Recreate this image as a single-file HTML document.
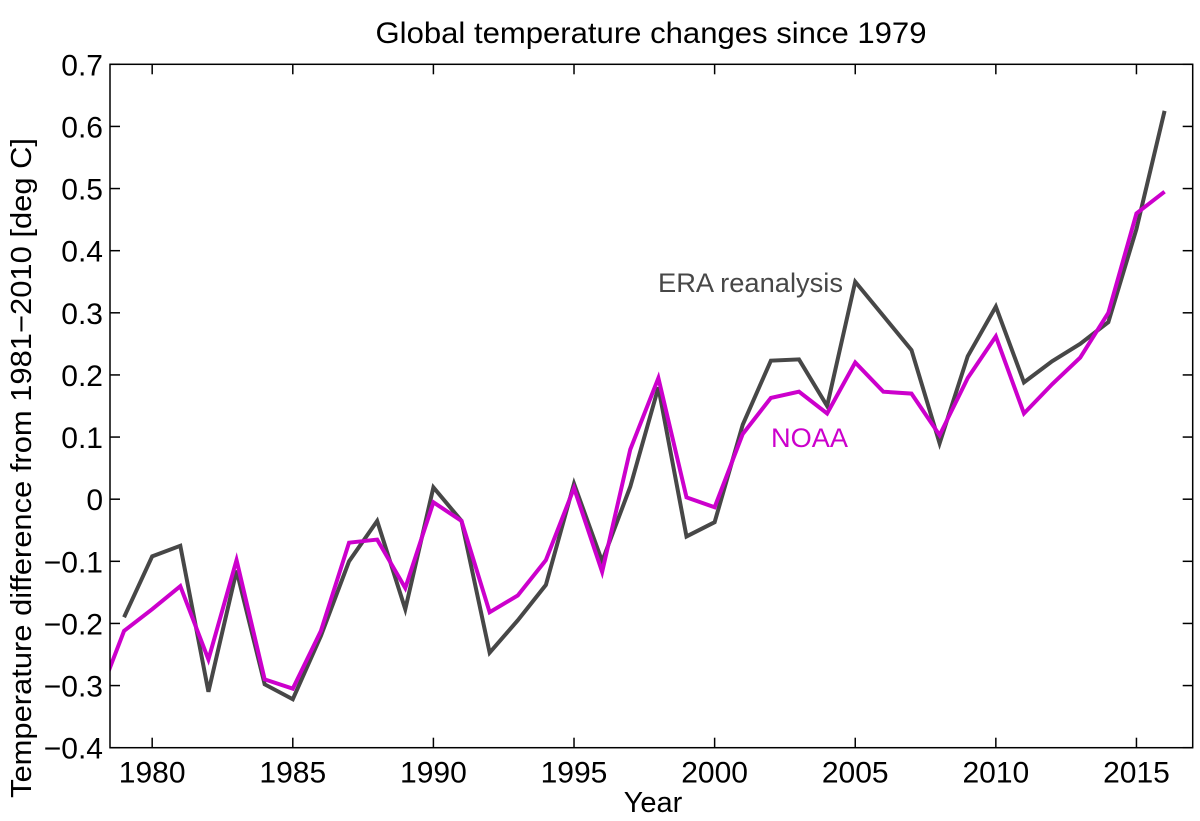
<!DOCTYPE html>
<html><head><meta charset="utf-8"><style>
body{margin:0;background:#fff;}
svg{display:block;font-family:"Liberation Sans",Arial,sans-serif;}
</style></head><body>
<svg id="chart" width="1200" height="821">
<text x="651" y="43" font-size="30" text-anchor="middle" textLength="551" lengthAdjust="spacingAndGlyphs">Global temperature changes since 1979</text>
<g id="plot"></g>
<text x="653" y="812" font-size="29" text-anchor="middle">Year</text>
<text transform="translate(31,468) rotate(-90)" font-size="29" text-anchor="middle" textLength="660" lengthAdjust="spacingAndGlyphs">Temperature difference from 1981−2010 [deg C]</text>
<text x="658" y="292" font-size="27" fill="#474747" textLength="185" lengthAdjust="spacingAndGlyphs">ERA reanalysis</text>
<text x="771" y="447" font-size="27" fill="#cc00cc" textLength="77" lengthAdjust="spacingAndGlyphs">NOAA</text>
</svg>
<script>
const eraYears=[1979,1980,1981,1982,1983,1984,1985,1986,1987,1988,1989,1990,1991,1992,1993,1994,1995,1996,1997,1998,1999,2000,2001,2002,2003,2004,2005,2006,2007,2008,2009,2010,2011,2012,2013,2014,2015,2016];
const eraValues=[-0.19,-0.092,-0.075,-0.31,-0.115,-0.298,-0.322,-0.22,-0.10,-0.035,-0.177,0.019,-0.035,-0.247,-0.195,-0.138,0.025,-0.10,0.02,0.18,-0.06,-0.037,0.12,0.223,0.225,0.15,0.35,0.295,0.24,0.09,0.23,0.31,0.188,0.222,0.25,0.285,0.435,0.625];
const noaaYears=[1978,1979,1980,1981,1982,1983,1984,1985,1986,1987,1988,1989,1990,1991,1992,1993,1994,1995,1996,1997,1998,1999,2000,2001,2002,2003,2004,2005,2006,2007,2008,2009,2010,2011,2012,2013,2014,2015,2016];
const noaaValues=[-0.33,-0.212,-0.177,-0.14,-0.258,-0.098,-0.29,-0.305,-0.212,-0.07,-0.065,-0.143,-0.005,-0.035,-0.182,-0.155,-0.098,0.018,-0.117,0.08,0.195,0.003,-0.013,0.105,0.163,0.173,0.138,0.22,0.173,0.17,0.103,0.195,0.262,0.138,0.185,0.228,0.3,0.46,0.495];
const xTicks=[1980,1985,1990,1995,2000,2005,2010,2015];
const yTicks=[-0.4,-0.3,-0.2,-0.1,0,0.1,0.2,0.3,0.4,0.5,0.6,0.7];
const yTickLabels=["−0.4","−0.3","−0.2","−0.1","0","0.1","0.2","0.3","0.4","0.5","0.6","0.7"];

const L=110,R=1192.7,T=64.3,B=747.7,X0=1978.5,X1=2017,Y0=-0.4,Y1=0.7;
const sx=v=>L+(v-X0)/(X1-X0)*(R-L);
const sy=v=>B-(v-Y0)/(Y1-Y0)*(B-T);
const NS="http://www.w3.org/2000/svg";
const g=document.getElementById('plot');
function mk(t,a){const e=document.createElementNS(NS,t);for(const k in a)e.setAttribute(k,a[k]);g.appendChild(e);return e;}
const defs=mk('defs',{});
const cp=document.createElementNS(NS,'clipPath');cp.setAttribute('id','clip');
const cr=document.createElementNS(NS,'rect');cr.setAttribute('x',L);cr.setAttribute('y',T);cr.setAttribute('width',R-L);cr.setAttribute('height',B-T);
cp.appendChild(cr);defs.appendChild(cp);

xTicks.forEach(v=>{
  const x=sx(v);
  const t1=mk('line',{x1:x,x2:x,y1:B,y2:B-10,stroke:'#000','stroke-width':1.5});
  
  
  const t2=mk('line',{x1:x,x2:x,y1:T,y2:T+10,stroke:'#000','stroke-width':1.5});
  
  
  const tx=mk('text',{x:x,y:B+35,'font-size':30,'text-anchor':'middle'});
  tx.textContent=v;
  
  
});
yTicks.forEach((v,i)=>{
  const y=sy(v);
  const t1=mk('line',{x1:L,x2:L+10,y1:y,y2:y,stroke:'#000','stroke-width':1.5});
  
  
  const t2=mk('line',{x1:R,x2:R-10,y1:y,y2:y,stroke:'#000','stroke-width':1.5});
  
  
  const tx=mk('text',{x:L-7,y:y+11,'font-size':30,'text-anchor':'end'});
  tx.textContent=yTickLabels[i];
  
  
});
function series(xs,ys,color,name){
  const p=mk('polyline',{points:xs.map((x,i)=>sx(x)+','+sy(ys[i])).join(' '),fill:'none',stroke:color,'stroke-width':4,'stroke-linejoin':'miter','clip-path':'url(#clip)'});
  
  
}
series(eraYears,eraValues,'#474747','era-line');
series(noaaYears,noaaValues,'#cc00cc','noaa-line');
const fr=mk('rect',{x:L,y:T,width:R-L,height:B-T,fill:'none',stroke:'#000','stroke-width':1.5});


</script>
</body></html>
